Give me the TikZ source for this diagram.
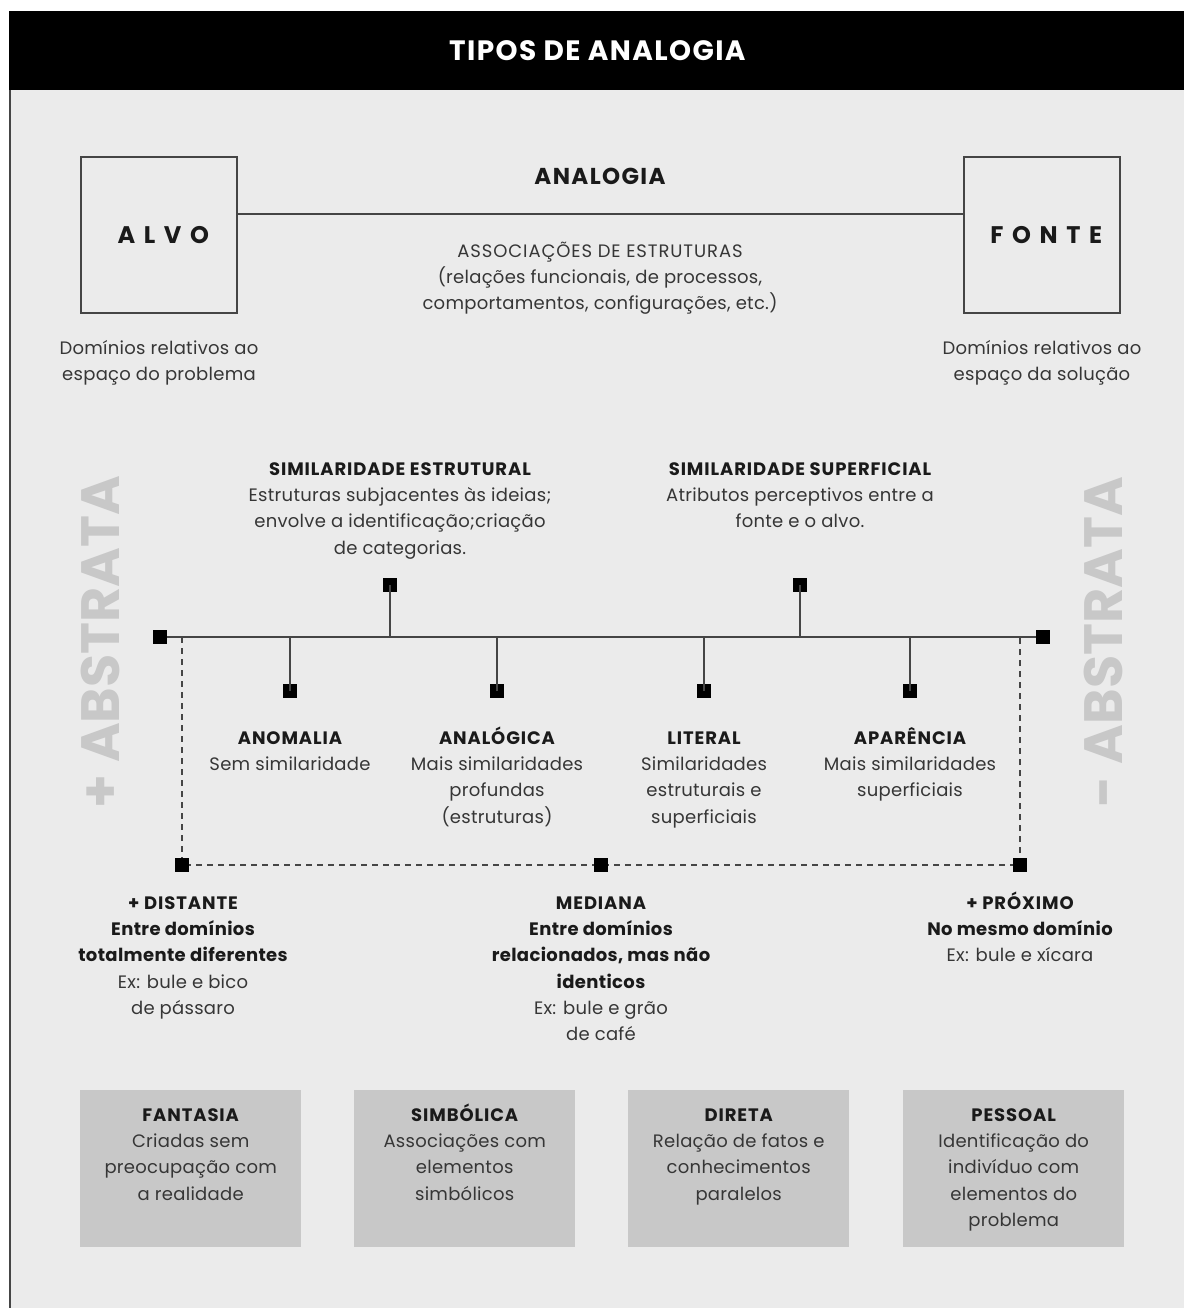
\documentclass[tikz,border=0pt]{standalone}
\usepackage{fontspec}
\setmainfont{Poppins}
\definecolor{bg}{HTML}{EBEBEB}
\definecolor{boxgray}{HTML}{C8C8C8}
\definecolor{faint}{HTML}{C8C8C8}
\definecolor{ink}{HTML}{1A1A1A}
\definecolor{body}{HTML}{363636}
\definecolor{rule}{HTML}{454545}
\newcommand\lnhead{\rule{0pt}{18pt}}
% caps headings and bold lines
\newcommand\hd[1]{{\color{ink}\bfseries\addfontfeature{LetterSpace=5}#1}}
\newcommand\bd[1]{{\color{ink}\bfseries\addfontfeature{LetterSpace=2}#1}}
\begin{document}
\begin{tikzpicture}[x=1pt,y=-1pt,
  txt/.style={text=body,font=\fontsize{18}{26.3}\selectfont\addfontfeature{LetterSpace=1.5},align=center,inner sep=0pt,anchor=north},
  sq/.style={rectangle,fill=black,draw=none,minimum size=14pt,inner sep=0pt},
  ln/.style={draw=rule,line width=2pt},
  dsh/.style={draw=rule,line width=1.6pt,dash pattern=on 6pt off 5pt},
  frame/.style={draw=rule,line width=2pt,fill=bg,minimum size=156pt,inner sep=0pt,
    font=\fontsize{24}{26}\selectfont\bfseries\addfontfeature{LetterSpace=36},text=ink},
  card/.style={rectangle,fill=boxgray,draw=none,minimum width=221pt,minimum height=157pt,inner sep=0pt,anchor=north west},
  side/.style={text=faint,font=\fontsize{54}{60}\selectfont\bfseries,rotate=90,inner sep=0pt}]
\useasboundingbox (0,0) rectangle (1184,1308);
\fill[white] (0,0) rectangle (1184,1308);
% page background and left rule
\fill[bg] (10,90) rectangle (1184,1308);
\draw[rule,line width=2pt] (10,89) -- (10,1308);
% header band
\node[fill=black,minimum width=1175pt,minimum height=79pt,inner sep=0pt,anchor=north west,
  text=white,font=\fontsize{28}{30}\selectfont\bfseries\addfontfeature{LetterSpace=5}] (head) at (9,11) {TIPOS DE ANALOGIA\kern-1.4pt};

% target and source domains
\node[frame] (alvo) at (159,235) {ALVO\kern-8.6pt};
\node[frame] (fonte) at (1042,235) {FONTE\kern-8.6pt};
\draw[ln] (alvo.east |- 0,214) -- (fonte.west |- 0,214);
\node[text=ink,font=\fontsize{23}{26}\selectfont\bfseries\addfontfeature{LetterSpace=6},inner sep=0pt] (analogia) at (600,176) {ANALOGIA};
\node[txt] (assoc) at (600,239) {\lnhead{\addfontfeature{LetterSpace=5}ASSOCIAÇÕES DE ESTRUTURAS}\\(relações funcionais, de processos,\\comportamentos, configurações, etc.)};
\node[txt] (dalvo) at (159,336) {\lnhead Domínios relativos ao\\espaço do problema};
\node[txt] (dfonte) at (1042,336) {\lnhead Domínios relativos ao\\espaço da solução};

% abstraction scale labels
\node[side] (maisabs) at (100,642) {+ ABSTRATA};
\node[side] (menosabs) at (1103,642) {- ABSTRATA};

% similarity axis
\node[sq] (axl) at (160,637) {};
\node[sq] (axr) at (1043,637) {};
\draw[ln] (axl) -- (axr);
\node[sq] (up1) at (390,585) {};
\node[sq] (up2) at (800,585) {};
\node[sq] (dn1) at (290,691) {};
\node[sq] (dn2) at (497,691) {};
\node[sq] (dn3) at (704,691) {};
\node[sq] (dn4) at (910,691) {};
\foreach \s in {up1,up2,dn1,dn2,dn3,dn4} \draw[ln] (\s.center) -- (\s.center |- axl.center);

\node[txt] (estr) at (400,457) {\lnhead\hd{SIMILARIDADE ESTRUTURAL}\\Estruturas subjacentes às ideias;\\envolve a identificação;criação\\de categorias.};
\node[txt] (superf) at (800,457) {\lnhead\hd{SIMILARIDADE SUPERFICIAL}\\Atributos perceptivos entre a\\fonte e o alvo.};

\node[txt] (anom) at (290,726) {\lnhead\hd{ANOMALIA}\\Sem similaridade};
\node[txt] (analog) at (497,726) {\lnhead\hd{ANALÓGICA}\\Mais similaridades\\profundas\\(estruturas)};
\node[txt] (liter) at (704,726) {\lnhead\hd{LITERAL}\\Similaridades\\estruturais e\\superficiais};
\node[txt] (apar) at (910,726) {\lnhead\hd{APARÊNCIA}\\Mais similaridades\\superficiais};

% domain distance scale
\coordinate (dtl) at (182,637);
\coordinate (dtr) at (1020,637);
\node[sq] (dbl) at (182,865) {};
\node[sq] (dbm) at (601,865) {};
\node[sq] (dbr) at (1020,865) {};
\draw[dsh] (dtl) -- (dbl.center) -- (dbm.center) -- (dbr.center) -- (dtr);
\node[sq] at (dbl) {};
\node[sq] at (dbm) {};
\node[sq] at (dbr) {};

\node[txt] (dist) at (183,891) {\lnhead\hd{+ DISTANTE}\\\bd{Entre domínios}\\\bd{totalmente diferentes}\\Ex: bule e bico\\de pássaro};
\node[txt] (med) at (601,891) {\lnhead\hd{MEDIANA}\\\bd{Entre domínios}\\\bd{relacionados, mas não}\\\bd{identicos}\\Ex: bule e grão\\de café};
\node[txt] (prox) at (1020,891) {\lnhead\hd{+ PRÓXIMO}\\\bd{No mesmo domínio}\\Ex: bule e xícara};

% kinds of analogy
\node[card] (fant) at (80,1090) {};
\node[card] (simb) at (354,1090) {};
\node[card] (dir) at (628,1090) {};
\node[card] (pess) at (903,1090) {};
\node[txt] at ([yshift=-13]fant.north) {\lnhead\hd{FANTASIA}\\Criadas sem\\preocupação com\\a realidade};
\node[txt] at ([yshift=-13]simb.north) {\lnhead\hd{SIMBÓLICA}\\Associações com\\elementos\\simbólicos};
\node[txt] at ([yshift=-13]dir.north) {\lnhead\hd{DIRETA}\\Relação de fatos e\\conhecimentos\\paralelos};
\node[txt] at ([yshift=-13]pess.north) {\lnhead\hd{PESSOAL}\\Identificação do\\indivíduo com\\elementos do\\problema};
\end{tikzpicture}
\end{document}
